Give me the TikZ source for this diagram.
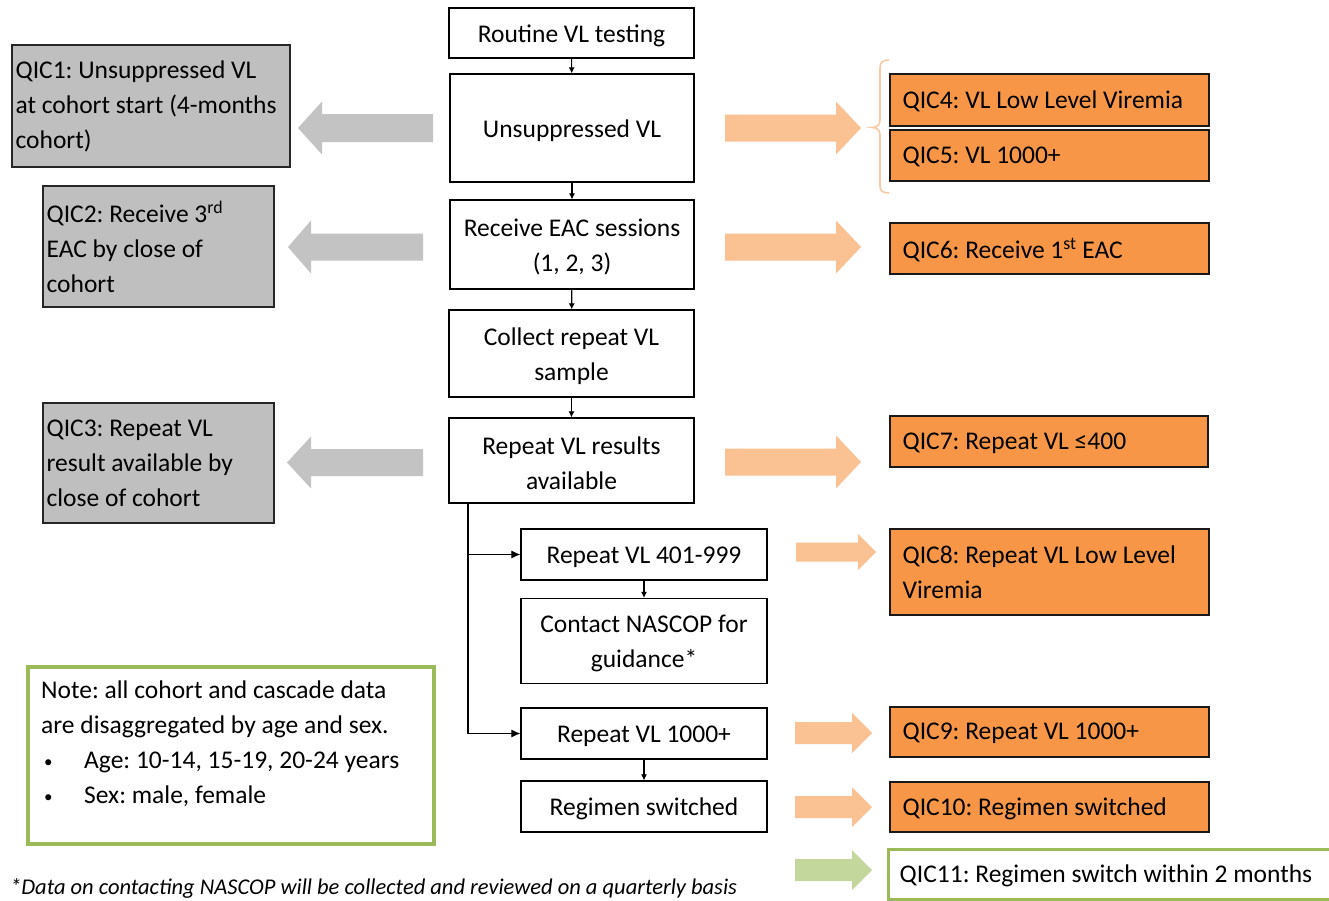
\documentclass[tikz,border=0pt]{standalone}
\usepackage{fontspec}
\setmainfont{Carlito}
\frenchspacing
\usetikzlibrary{arrows.meta}
\definecolor{qorange}{HTML}{F79646}
\definecolor{qgrey}{HTML}{BFBFBF}
\definecolor{arrgrey}{HTML}{C3C3C3}
\definecolor{arrorange}{HTML}{FAC193}
\definecolor{bracecol}{HTML}{F9CBA5}
\definecolor{qgreen}{HTML}{9BBB59}
\definecolor{arrgreen}{HTML}{C3D69B}
\newcommand{\blkarrow}[7]{% color, tail x, tip x, head base x, y, half shaft, half head
  \fill[#1] (#2,{#5-#6}) -- (#4,{#5-#6}) -- (#4,{#5-#7}) -- (#3,#5) -- (#4,{#5+#7}) -- (#4,{#5+#6}) -- (#2,{#5+#6}) -- cycle;}
\newcommand{\notebullet}{\hspace*{3pt}\makebox[40pt][l]{\raisebox{1pt}{\fontsize{17}{17}\selectfont\textbullet}}}
\begin{document}
\begin{tikzpicture}[x=1pt,y=-1pt,
  txt/.style={font=\fontsize{25.5}{35}\selectfont},
  flowbox/.style={draw=black, line width=1.2pt, fill=white, inner sep=0pt},
  flowtext/.style={txt, align=center, inner sep=0pt, yshift=-2.5pt},
  greybox/.style={draw=black!85, line width=1.2pt, fill=qgrey, inner sep=0pt},
  orangebox/.style={draw=black!90, line width=1.2pt, fill=qorange, inner sep=0pt},
  greenbox/.style={draw=qgreen, line width=3pt, fill=white, inner sep=0pt},
  qtext/.style={txt, anchor=west, align=left, inner sep=0pt},
  flowarrow/.style={-{Latex[length=6pt,width=6pt]}, line width=1.1pt},
  brancharrow/.style={-{Latex[length=9pt,width=8pt]}, line width=1.1pt}
]
\useasboundingbox (0,0) rectangle (1329,900);
\fill[white] (0,0) rectangle (1329,900);

% central flow
\node[flowbox, minimum width=245, minimum height=50] (r1) at (571.5,33) {};
\node[flowtext] (r1t) at (r1.center) {Routine VL testing};
\node[flowbox, minimum width=244, minimum height=108] (r2) at (572,128) {};
\node[flowtext] (r2t) at (r2.center) {Unsuppressed VL};
\node[flowbox, minimum width=244, minimum height=89] (r3) at (572,244.5) {};
\node[flowtext] (r3t) at (r3.center) {Receive EAC sessions\\(1, 2, 3)};
\node[flowbox, minimum width=245, minimum height=87] (r4) at (571.5,353.5) {};
\node[flowtext] (r4t) at (r4.center) {Collect repeat VL\\sample};
\node[flowbox, minimum width=245, minimum height=85] (r5) at (571.5,460.5) {};
\node[flowtext] (r5t) at (r5.center) {Repeat VL results\\available};
\node[flowbox, minimum width=246, minimum height=51] (r6) at (644,554.5) {};
\node[flowtext] (r6t) at (r6.center) {Repeat VL 401-999};
\node[flowbox, minimum width=246, minimum height=85] (r7) at (644,641) {};
\node[flowtext] (r7t) at (r7.center) {Contact NASCOP for\\guidance*};
\node[flowbox, minimum width=246, minimum height=51] (r8) at (644,733.5) {};
\node[flowtext] (r8t) at (r8.center) {Repeat VL 1000+};
\node[flowbox, minimum width=246, minimum height=51] (r9) at (644,806.5) {};
\node[flowtext] (r9t) at (r9.center) {Regimen switched};

\draw[flowarrow] (r1) -- (r2);
\draw[flowarrow] (r2) -- (r3);
\draw[flowarrow] (r3) -- (r4);
\draw[flowarrow] (r4) -- (r5);
\draw[flowarrow] (r6) -- (r7);
\draw[flowarrow] (r8) -- (r9);
\coordinate (br) at (468,733.5);
\draw[brancharrow] (r5.south -| br) |- (r8.west);
\draw[brancharrow] (r6.west -| br) -- (r6.west);

% grey QIC boxes
\node[greybox, minimum width=278, minimum height=122] (g1) at (151,106) {};
\node[qtext] (g1t) at ([xshift=4pt]g1.west) {QIC1: Unsuppressed VL\\at cohort start (4-months\\cohort)};
\node[greybox, minimum width=231, minimum height=121] (g2) at (158.5,246.5) {};
\node[qtext] (g2t) at ([xshift=4pt]g2.west) {QIC2: Receive 3\textsuperscript{rd}\\EAC by close of\\cohort};
\node[greybox, minimum width=231, minimum height=120] (g3) at (158.5,463) {};
\node[qtext] (g3t) at ([xshift=4pt]g3.west) {QIC3: Repeat VL\\result available by\\close of cohort};

% orange QIC boxes
\node[orangebox, minimum width=319, minimum height=52] (o4) at (1049.5,100) {};
\node[qtext] (o4t) at ([xshift=13pt,yshift=-1.5pt]o4.west) {QIC4: VL Low Level Viremia};
\node[orangebox, minimum width=319, minimum height=51] (o5) at (1049.5,155.5) {};
\node[qtext] (o5t) at ([xshift=13pt,yshift=-1.5pt]o5.west) {QIC5: VL 1000+};
\node[orangebox, minimum width=319, minimum height=51] (o6) at (1049.5,248.5) {};
\node[qtext] (o6t) at ([xshift=13pt,yshift=-1.5pt]o6.west) {QIC6: Receive 1\textsuperscript{st} EAC};
\node[orangebox, minimum width=318, minimum height=51] (o7) at (1049,441.5) {};
\node[qtext] (o7t) at ([xshift=13pt,yshift=-1.5pt]o7.west) {QIC7: Repeat VL ≤400};
\node[orangebox, minimum width=319, minimum height=86] (o8) at (1049.5,572) {};
\node[qtext] (o8t) at ([xshift=13pt]o8.west) {QIC8: Repeat VL Low Level\\Viremia};
\node[orangebox, minimum width=319, minimum height=50] (o9) at (1049.5,732) {};
\node[qtext] (o9t) at ([xshift=13pt,yshift=-1.5pt]o9.west) {QIC9: Repeat VL 1000+};
\node[orangebox, minimum width=319, minimum height=50] (o10) at (1049.5,807) {};
\node[qtext] (o10t) at ([xshift=13pt,yshift=-1.5pt]o10.west) {QIC10: Regimen switched};
\node[greenbox, minimum width=446, minimum height=50] (q11) at (1111,874) {};
\node[qtext] (q11t) at ([xshift=13pt,yshift=-1.5pt]q11.west) {QIC11: Regimen switch within 2 months};

% bracket grouping QIC4 and QIC5
\draw[bracecol, line width=1.6pt]
  (889,60) .. controls (883,60) and (880,62) .. (880,68) -- (880,120)
  .. controls (880,125) and (877,127.5) .. (872,127.5)
  .. controls (877,127.5) and (880,130) .. (880,135) -- (880,186)
  .. controls (880,191) and (883,193) .. (889,193);

% block arrows
\blkarrow{arrgrey}{433}{298}{322}{128}{14}{26.5}
\blkarrow{arrgrey}{423}{288}{311}{247}{13.5}{26.5}
\blkarrow{arrgrey}{423}{287}{311}{462.5}{13.5}{26}
\blkarrow{arrorange}{725}{861}{836}{128}{13.5}{26.5}
\blkarrow{arrorange}{725}{861}{836}{247}{13.5}{26.5}
\blkarrow{arrorange}{725}{861}{836}{462}{13.5}{26.5}
\blkarrow{arrorange}{796}{876}{858}{552}{9.5}{18}
\blkarrow{arrorange}{795}{872}{852}{733}{11}{20}
\blkarrow{arrorange}{795}{872}{852}{807}{11}{20}
\blkarrow{arrgreen}{795}{872}{852}{870}{11}{20}

% note
\node[draw=qgreen, line width=4pt, minimum width=406, minimum height=177, inner sep=0pt] (note) at (231,755.5) {};
\node[txt, anchor=north west, align=left, inner sep=0pt, xshift=15pt, yshift=-16pt] (notetext) at (note.north west)
  {Note: all cohort and cascade data\\are disaggregated by age and sex.\\\notebullet Age: 10-14, 15-19, 20-24 years\\\notebullet Sex: male, female};

% footnote
\node[anchor=base west, inner sep=0pt, font=\fontsize{22.5}{26}\selectfont\itshape] (foot) at (10,894)
  {*Data on contacting NASCOP will be collected and reviewed on a quarterly basis};
\end{tikzpicture}
\end{document}
